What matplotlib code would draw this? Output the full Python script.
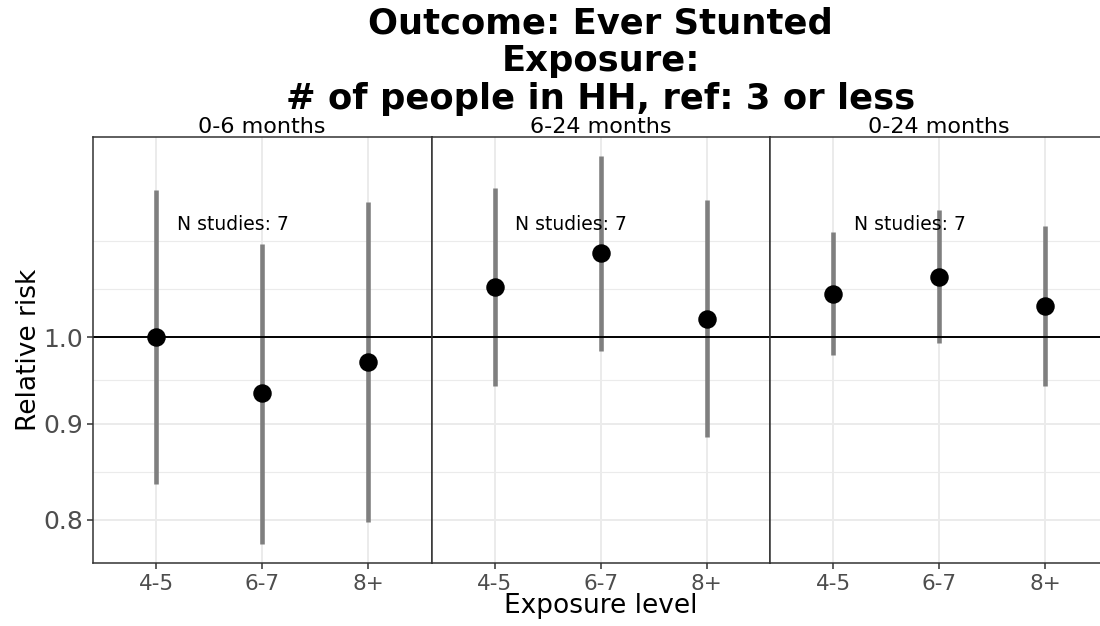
import numpy as np
import matplotlib
matplotlib.use("Agg")
import matplotlib.pyplot as plt
from matplotlib.ticker import NullLocator, FixedLocator

# ---- data ----
levels = ["4-5", "6-7", "8+"]
panels = ["0-6 months", "6-24 months", "0-24 months"]

rr_0_6 = [1.000, 0.934, 0.970]
lo_0_6 = [0.836, 0.777, 0.798]
hi_0_6 = [1.198, 1.121, 1.180]

rr_6_24 = [1.064, 1.109, 1.023]
lo_6_24 = [0.942, 0.984, 0.885]
hi_6_24 = [1.201, 1.248, 1.183]

rr_0_24 = [1.055, 1.077, 1.039]
lo_0_24 = [0.979, 0.993, 0.942]
hi_0_24 = [1.137, 1.169, 1.146]

n_studies = [7, 7, 7]
label_x = 1.72     # position of "N studies" label (category units)
label_y = 1.148

y_breaks = [0.8, 0.9, 1.0]

panel_data = [
    (rr_0_6, lo_0_6, hi_0_6),
    (rr_6_24, lo_6_24, hi_6_24),
    (rr_0_24, lo_0_24, hi_0_24),
]

# ---- layout (pixels of a 1100x626 canvas) ----
W, H = 1100, 626
PANEL_LEFT, PANEL_W = 93, 338.5
PANEL_TOP, PANEL_BOTTOM = 137, 563

GRID_COL = "#EBEBEB"
TEXT_COL = "#4D4D4D"
AXIS_COL = "#333333"

# y limits: ggplot style 5% expansion on the log scale
all_lo = np.log(np.concatenate([lo_0_6, lo_6_24, lo_0_24]))
all_hi = np.log(np.concatenate([hi_0_6, hi_6_24, hi_0_24]))
span = all_hi.max() - all_lo.min()
ylim = (np.exp(all_lo.min() - 0.05 * span), np.exp(all_hi.max() + 0.05 * span))

# minor grid lines the way ggplot places them (midpoints in log space, extended)
lb = np.log(y_breaks)
step = lb[1] - lb[0]
ext = np.concatenate([[lb[0] - step], lb, [lb[-1] + step]])
minor = np.exp(np.concatenate([(ext[:-1] + ext[1:]) / 2, ext[[0, -1]]]))

fig = plt.figure(figsize=(W / 100, H / 100), dpi=100)
x = np.arange(1, len(levels) + 1)

for i, (name, (rr, lo, hi)) in enumerate(zip(panels, panel_data)):
    ax = fig.add_axes([
        (PANEL_LEFT + i * PANEL_W) / W,
        (H - PANEL_BOTTOM) / H,
        PANEL_W / W,
        (PANEL_BOTTOM - PANEL_TOP) / H,
    ])
    ax.set_yscale("log")
    ax.set_xlim(0.4, len(levels) + 0.6)
    ax.set_ylim(*ylim)

    # grid
    for m in minor:
        ax.axhline(m, color=GRID_COL, lw=0.8, zorder=0)
    for b in y_breaks:
        ax.axhline(b, color=GRID_COL, lw=1.4, zorder=0.5)
    for xv in x:
        ax.axvline(xv, color=GRID_COL, lw=1.4, zorder=0.5)

    ax.vlines(x, lo, hi, color="#7F7F7F", lw=3.3, zorder=2)
    ax.axhline(1.0, color="black", lw=1.4, zorder=3)
    ax.plot(x, rr, "o", color="black", ms=12.3, zorder=4)

    ax.text(label_x, label_y, f"N studies: {n_studies[i]}",
            ha="center", va="center", fontsize=13.5, color="black", zorder=5)

    ax.annotate(name, xy=(0.5, 1.0), xycoords="axes fraction",
                xytext=(0, 3), textcoords="offset points",
                ha="center", va="baseline", fontsize=16, color="black")

    ax.set_xticks(x)
    ax.set_xticklabels(levels)
    ax.yaxis.set_major_locator(FixedLocator(y_breaks))
    ax.yaxis.set_minor_locator(NullLocator())
    ax.set_yticklabels([f"{b:.1f}" for b in y_breaks])
    ax.tick_params(axis="x", length=4, width=1.1, color=AXIS_COL,
                   labelsize=15.5, labelcolor=TEXT_COL, pad=4)
    ax.tick_params(axis="y", length=4, width=1.1, color=AXIS_COL,
                   labelsize=18, labelcolor=TEXT_COL, pad=3)
    if i > 0:
        ax.tick_params(axis="y", length=0, labelleft=False)

    for s in ax.spines.values():
        s.set_color(AXIS_COL)
        s.set_linewidth(1.1)
        s.set_zorder(6)

    if i == 0:
        ax.set_ylabel("Relative risk", fontsize=19, color="black", labelpad=1)

center_x = (PANEL_LEFT + 1.5 * PANEL_W) / W
fig.text(center_x, 1 - 606 / H, "Exposure level", ha="center", va="center",
         fontsize=19, color="black")
fig.text(center_x, 1 - 6 / H,
         "Outcome: Ever Stunted\nExposure:\n# of people in HH, ref: 3 or less",
         ha="center", va="top", fontsize=25.5, fontweight="bold",
         linespacing=1.14, color="black")

fig.savefig("out.png", dpi=100)
